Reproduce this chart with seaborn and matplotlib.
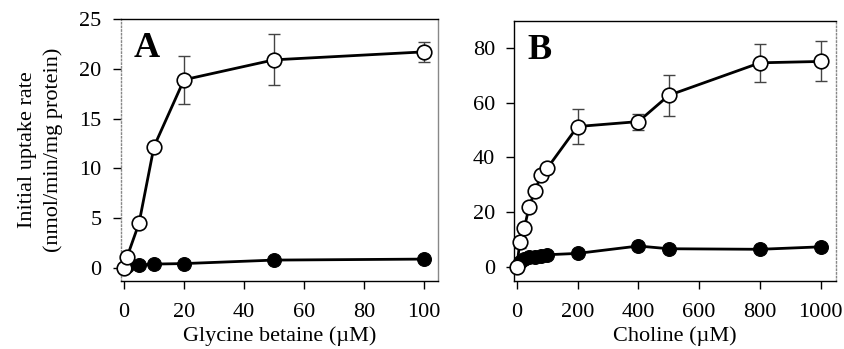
import numpy as np
import pandas as pd
import seaborn as sns
import matplotlib.pyplot as plt

# Panel A - glycine betaine
gb_conc_open = [0, 1, 5, 10, 20, 50, 100]
gb_rate_open = [0.0, 1.1, 4.5, 12.2, 18.9, 20.9, 21.7]
gb_err_open = [0.0, 0.0, 0.0, 0.0, 2.4, 2.55, 1.0]
gb_conc_filled = [0, 1, 5, 10, 20, 50, 100]
gb_rate_filled = [0.0, 0.25, 0.3, 0.4, 0.45, 0.8, 0.9]

# Panel B - choline
ch_conc_open = [0, 10, 25, 40, 60, 80, 100, 200, 400, 500, 800, 1000]
ch_rate_open = [0.0, 8.9, 14.2, 21.7, 27.9, 33.4, 36.0, 51.3, 53.1, 62.7, 74.6, 75.1]
ch_err_open = [0.0, 2.0, 0.0, 0.0, 0.0, 0.0, 0.0, 6.3, 2.9, 7.5, 7.0, 7.3]
ch_conc_filled = [0, 10, 25, 40, 60, 80, 100, 200, 400, 500, 800, 1000]
ch_rate_filled = [0.0, 1.8, 3.0, 3.5, 3.6, 3.8, 4.4, 4.9, 7.6, 6.6, 6.4, 7.3]

sns.set_style("ticks")
plt.rcParams['font.family'] = ['Liberation Serif', 'DejaVu Serif']
plt.rcParams['text.color'] = 'black'
plt.rcParams['axes.labelcolor'] = 'black'

fig = plt.figure(figsize=(8.44, 3.49), dpi=100)
axA = fig.add_axes([0.1434, 0.1948, 0.3756, 0.7508])
axB = fig.add_axes([0.6094, 0.1948, 0.3811, 0.7459])


def draw_panel(ax, xo, yo, eo, xf, yf):
    ax.errorbar(xo, yo, yerr=eo, fmt='none', ecolor='#444444',
                elinewidth=1, capsize=4, capthick=1, zorder=2)
    sns.lineplot(x=xf, y=yf, ax=ax, color='black', linewidth=2, sort=False,
                 marker='o', markersize=10, markerfacecolor='black',
                 markeredgecolor='black', zorder=3, clip_on=False)
    sns.lineplot(x=xo, y=yo, ax=ax, color='black', linewidth=2, sort=False,
                 marker='o', markersize=10.5, markerfacecolor='white',
                 markeredgecolor='black', markeredgewidth=1.2, zorder=4,
                 clip_on=False)
    for s in ax.spines.values():
        s.set_color('black')
        s.set_linewidth(1)
    ax.tick_params(direction='out', length=6, width=1, labelsize=16,
                   colors='black')
    ax.tick_params(axis='x', pad=10)
    ax.tick_params(axis='y', pad=8)


draw_panel(axA, gb_conc_open, gb_rate_open, gb_err_open, gb_conc_filled, gb_rate_filled)
axA.set_xlim(-1, 104.7)
axA.set_ylim(-1.3, 25)
axA.set_xticks([0, 20, 40, 60, 80, 100])
axA.set_yticks([0, 5, 10, 15, 20, 25])
axA.spines['left'].set_color('#888888')
axA.spines['left'].set_linestyle(':')
axA.spines['right'].set_color('#888888')
axA.set_xlabel('Glycine betaine (\u00b5M)', fontsize=16, labelpad=3)
axA.set_ylabel('Initial uptake rate\n(nmol/min/mg protein)', fontsize=16,
               labelpad=12, linespacing=1.4)
axA.text(0.04, 0.95, 'A', transform=axA.transAxes, fontsize=26,
         fontweight='bold', va='top', ha='left')

draw_panel(axB, ch_conc_open, ch_rate_open, ch_err_open, ch_conc_filled, ch_rate_filled)
axB.set_xlim(-8, 1050)
axB.set_ylim(-5.2, 90)
axB.set_xticks([0, 200, 400, 600, 800, 1000])
axB.set_yticks([0, 20, 40, 60, 80])
axB.spines['right'].set_color('#888888')
axB.spines['right'].set_linestyle(':')
axB.set_xlabel('Choline (\u00b5M)', fontsize=16, labelpad=3)
axB.set_ylabel('')
axB.text(0.04, 0.95, 'B', transform=axB.transAxes, fontsize=26,
         fontweight='bold', va='top', ha='left')

fig.savefig('out.png', dpi=100)
